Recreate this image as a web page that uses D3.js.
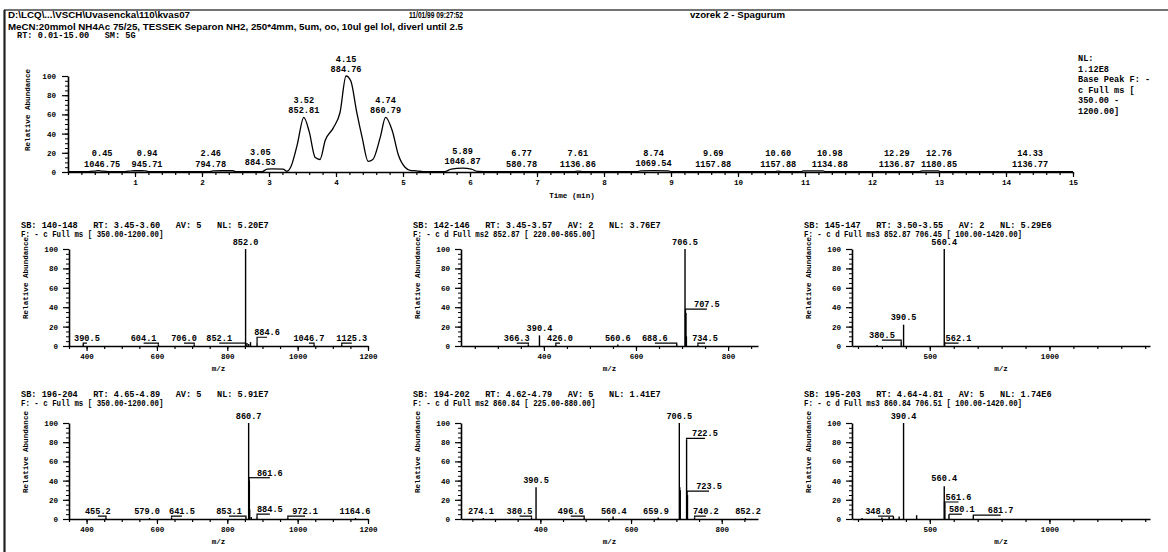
<!DOCTYPE html>
<html><head><meta charset="utf-8">
<script src="https://cdn.jsdelivr.net/npm/d3@7"></script>
<style>
body{margin:0;background:#fff;}
svg text{font-family:"Liberation Mono","DejaVu Sans Mono",monospace;font-weight:bold;font-size:8.6px;fill:#000;white-space:pre;}
svg text.tk{font-size:7.6px;}
svg text.top{font-family:"Liberation Sans","Arial",sans-serif;font-weight:bold;font-size:8.4px;}
</style></head><body>
<svg id="c" width="1168" height="552"></svg>
<script>
// ---------------- DATA ----------------
const headerFile = "D:\\LCQ\\...\\VSCH\\Uvasencka\\110\\kvas07";
const headerDate = "11/01/99 09:27:52";
const headerSample = "vzorek 2 - Spagurum";
const headerMethod = "MeCN:20mmol NH4Ac 75/25, TESSEK Separon NH2, 250*4mm, 5um, oo, 10ul gel lol, diverl until 2.5";

const chromHeader = "RT: 0.01-15.00   SM: 5G";
const chromInfo = ["NL:", "1.12E8", "Base Peak F: -", "c Full ms [", "350.00 -", "1200.00]"];
const chromXTicks = [1,2,3,4,5,6,7,8,9,10,11,12,13,14,15];
const yTicks = [0,20,40,60,80,100];

// chromatogram trace (time, relative abundance)
const chromTime = [0,0.3,0.4,0.45,0.5,0.6,0.85,0.95,1.0,1.1,1.15,1.2,1.5,2.1,2.17,2.3,2.46,2.5,2.9,2.97,3.05,3.21,3.27,3.33,3.42,3.52,3.6,3.69,3.76,3.84,3.96,4.06,4.15,4.22,4.31,4.39,4.48,4.55,4.66,4.74,4.84,4.93,5.03,5.12,5.2,5.3,5.62,5.72,5.89,6.02,6.12,6.3,7.55,7.61,7.7,8.5,8.54,8.74,8.96,9.0,10.55,10.6,10.65,10.95,10.97,11.27,11.3,12.7,12.75,12.99,13.02,15];
const chromInt  = [0.3,0.3,1,1.5,1,0.3,0.4,1.2,1.3,1.3,1.2,0.4,0.3,0.3,1.2,1.3,1.3,0.4,0.4,3,3.2,3,0.8,6,28,57,42,15,13,33,46,62,100,95,62,36,11,13,36,57,43,18,5,1.5,1.2,0.3,0.4,3,4,3,0.5,0.3,0.3,1,0.3,0.3,1.2,1.4,1.2,0.3,0.3,1,0.3,0.3,1.2,1.2,0.3,0.3,1.2,1.2,0.3,0.3];

// chromatogram peak annotations
const chromRT = ["0.45","0.94","2.46","3.05","3.52","4.15","4.74","5.89","6.77","7.61","8.74","9.69","10.60","10.98","12.29","12.76","14.33"];
const chromBP = ["1046.75","945.71","794.78","884.53","852.81","884.76","860.79","1046.87","580.78","1136.86","1069.54","1157.88","1157.88","1134.88","1136.87","1180.85","1136.77"];
const chromLabelT = [0.51,1.18,2.13,2.87,3.52,4.15,4.74,5.89,6.77,7.61,8.74,9.63,10.60,11.37,12.37,13.0,14.36];
const chromLabelApex = [1.5,1.5,1.5,3,57,100,57,4,1.5,1.5,1.8,1.5,1.5,1.5,1.5,1.5,1.5];

// spectra headers
const specHeader1 = [
  "SB: 140-148   RT: 3.45-3.60   AV: 5   NL: 5.20E7",
  "SB: 142-146   RT: 3.45-3.57   AV: 2   NL: 3.76E7",
  "SB: 145-147   RT: 3.50-3.55   AV: 2   NL: 5.29E6",
  "SB: 196-204   RT: 4.65-4.89   AV: 5   NL: 5.91E7",
  "SB: 194-202   RT: 4.62-4.79   AV: 5   NL: 1.41E7",
  "SB: 195-203   RT: 4.64-4.81   AV: 5   NL: 1.74E6"];
const specHeader2 = [
  "F: - c Full ms [ 350.00-1200.00]",
  "F: - c d Full ms2 852.87 [ 220.00-865.00]",
  "F: - c d Full ms3 852.87 706.45 [ 100.00-1420.00]",
  "F: - c Full ms [ 350.00-1200.00]",
  "F: - c d Full ms2 860.84 [ 225.00-880.00]",
  "F: - c d Full ms3 860.84 706.51 [ 100.00-1420.00]"];
const specDomains = [[350,1200],[220,865],[175,1420],[350,1200],[225,880],[175,1420]];
const specMajorTicks = [[400,600,800,1000,1200],[400,600,800],[500,1000],[400,600,800,1000,1200],[400,600,800],[500,1000]];
const specMinorStep = [50,50,100,50,50,100];

// peaks: [m/z, relative abundance]
const peaks1 = [[390.5,2],[604.1,1.5],[706.0,1.5],[852.0,100],[852.1,3],[856,3],[861,2],[866,4],[884.6,3],[1046.7,1],[1125.3,1.5]];
const peaks2 = [[366.3,1.5],[390.4,11],[426.0,1],[560.6,1.5],[688.6,2],[706.5,100],[707.5,36],[708.5,34],[709.5,10],[734.5,1.5]];
const peaks3 = [[280,1],[380.5,4],[390.5,22],[560.4,100],[562.1,4]];
const peaks4 = [[455.2,1],[579.0,1],[641.5,1.5],[853.1,2],[860.7,100],[861.6,43],[862.7,40],[863.6,10],[868,2],[884.5,2],[972.1,1.5],[1164.6,1]];
const peaks5 = [[274.1,1],[380.5,1.5],[390.5,33],[496.6,1],[560.4,2.5],[659.9,1.5],[706.5,100],[707.5,33],[708.5,30],[722.5,83],[723.5,28],[724.5,25],[740.2,1.5],[852.2,1]];
const peaks6 = [[217,1],[300,1.5],[330,2],[348.0,3],[372,2.5],[390.4,100],[445,4],[560.4,34],[561.6,18],[562.6,17],[580.1,5],[681.7,3]];

// labels: [text, peak m/z, peak abundance, label m/z, label level]
const labels1 = [["390.5",390.5,2,401,3],["604.1",604.1,1.5,562,3],["706.0",706.0,1.5,677,3],["852.1",852.1,3,777,3],["852.0",852.0,100,852.0,102],["884.6",884.6,3,913,9],["1046.7",1046.7,1,1032,3],["1125.3",1125.3,1.5,1154,3]];
const labels2 = [["366.3",366.3,1.5,341,3],["390.4",390.4,11,390.4,13.5],["426.0",426.0,1,435,3],["560.6",560.6,1.5,560.6,3],["688.6",688.6,2,641,3],["706.5",706.5,100,706.5,102],["707.5",707.5,36,754,38],["734.5",734.5,1.5,750,3]];
const labels3 = [["380.5",380.5,4,300,6],["390.5",390.5,22,390.5,25],["560.4",560.4,100,560.4,102],["562.1",562.1,4,620,3]];
const labels4 = [["455.2",455.2,1,432,3],["579.0",579.0,1,572,3],["641.5",641.5,1.5,671,3],["853.1",853.1,2,805,3],["860.7",860.7,100,860.7,102],["861.6",861.6,43,921,43],["884.5",884.5,2,921,5],["972.1",972.1,1.5,1021,3],["1164.6",1164.6,1,1163,3]];
const labels5 = [["274.1",274.1,1,269,3],["380.5",380.5,1.5,354,3],["390.5",390.5,33,390.5,35.5],["496.6",496.6,1,467,3],["560.4",560.4,2.5,562,3.5],["659.9",659.9,1.5,655,3],["706.5",706.5,100,706.5,102],["722.5",722.5,83,763,84],["723.5",723.5,28,772,29],["740.2",740.2,1.5,765,3],["852.2",852.2,1,858,3]];
const labels6 = [["348.0",348.0,3,284,3],["390.4",390.4,100,390.4,102],["560.4",560.4,34,560.4,37],["561.6",561.6,18,620,17.7],["580.1",580.1,5,634,5],["681.7",681.7,3,796,4]];

const specPeaks = [peaks1,peaks2,peaks3,peaks4,peaks5,peaks6];
const specLabels = [labels1,labels2,labels3,labels4,labels5,labels6];

// ---------------- DRAW ----------------
const svg = d3.select("#c");
svg.append("rect").attr("width",1168).attr("height",552).attr("fill","#fff");

// frame
svg.append("line").attr("x1",4).attr("x2",1168).attr("y1",10).attr("y2",10).attr("stroke","#444").attr("stroke-width",1.6);
svg.append("line").attr("x1",4.5).attr("x2",4.5).attr("y1",10).attr("y2",552).attr("stroke","#222").attr("stroke-width",2.2);

// page header
svg.append("text").attr("class","top").attr("x",8).attr("y",18).attr("textLength",182).attr("lengthAdjust","spacingAndGlyphs").text(headerFile);
svg.append("text").attr("class","top").attr("x",409).attr("y",18).attr("textLength",54).attr("lengthAdjust","spacingAndGlyphs").text(headerDate);
svg.append("text").attr("class","top").attr("x",690).attr("y",18).attr("textLength",95).attr("lengthAdjust","spacingAndGlyphs").text(headerSample);
svg.append("text").attr("class","top").attr("x",8).attr("y",30).attr("textLength",455).attr("lengthAdjust","spacingAndGlyphs").text(headerMethod);

function styleAxis(g){
  g.selectAll("path.domain").attr("stroke","#000").attr("stroke-width",1.6);
  g.selectAll(".tick line").attr("stroke","#000").attr("stroke-width",1.2);
  g.selectAll("text").attr("class","tk");
}

// ---- chromatogram
const cx = d3.scaleLinear().domain([0,15]).range([68,1073]);
const cy = d3.scaleLinear().domain([0,100]).range([172,76]);
const cg = svg.append("g");
cg.append("text").attr("x",17).attr("y",38).text(chromHeader);

cg.append("g").attr("transform","translate(0,172)")
  .call(d3.axisBottom(cx).tickValues(d3.range(0,15.001,0.2)).tickSize(3).tickSizeOuter(0).tickFormat(""))
  .call(g=>{g.select(".domain").remove();g.selectAll(".tick line").attr("stroke","#000").attr("stroke-width",1.2);});
cg.append("g").attr("transform","translate(0,172)")
  .call(d3.axisBottom(cx).tickValues(chromXTicks).tickSize(5).tickSizeOuter(0).tickPadding(3).tickFormat(d3.format("d")))
  .call(styleAxis);
cg.append("g").attr("transform","translate(68,0)")
  .call(d3.axisLeft(cy).tickValues(d3.range(0,100.001,5)).tickSize(3).tickSizeOuter(0).tickFormat(""))
  .call(g=>{g.select(".domain").remove();g.selectAll(".tick line").attr("stroke","#000").attr("stroke-width",1);});
cg.append("g").attr("transform","translate(68,0)")
  .call(d3.axisLeft(cy).tickValues(yTicks).tickSize(6).tickSizeOuter(0).tickPadding(6))
  .call(styleAxis);
cg.append("text").attr("transform","translate(30,110) rotate(-90)").attr("text-anchor","middle").attr("class","tk").text("Relative Abundance");
cg.append("text").attr("x",572).attr("y",198).attr("text-anchor","middle").attr("class","tk").text("Time (min)");

const chromPts = chromTime.map((t,i)=>[t,chromInt[i]]);
cg.append("path").datum(chromPts)
  .attr("d",d3.line().x(d=>cx(d[0])).y(d=>cy(d[1])).curve(d3.curveMonotoneX))
  .attr("fill","none").attr("stroke","#000").attr("stroke-width",1.3);

chromRT.forEach((rt,i)=>{
  const xx = cx(chromLabelT[i]);
  const yb = cy(chromLabelApex[i]) - 4;
  cg.append("text").attr("x",xx).attr("y",yb-10.5).attr("text-anchor","middle").text(rt);
  cg.append("text").attr("x",xx).attr("y",yb).attr("text-anchor","middle").text(chromBP[i]);
});
chromInfo.forEach((s,i)=>{
  cg.append("text").attr("x",1078).attr("y",61+i*10.6).text(s);
});

// ---- spectra
const colX = [[69,368],[461,758],[852,1150]];
const rowY = [[346,249],[519,423]];
const hdrY = [228,397];

specPeaks.forEach((pk,i)=>{
  const col = i%3, row = Math.floor(i/3);
  const [x0,x1] = colX[col];
  const [yb,yt] = rowY[row];
  const x = d3.scaleLinear().domain(specDomains[i]).range([x0,x1]);
  const y = d3.scaleLinear().domain([0,100]).range([yb,yt]);
  const g = svg.append("g");
  const hx = x0 - 48;
  g.append("text").attr("x",hx).attr("y",hdrY[row]).text(specHeader1[i]);
  g.append("text").attr("x",hx).attr("y",hdrY[row]+9).attr("textLength",specHeader2[i].length*4.45).attr("lengthAdjust","spacingAndGlyphs").text(specHeader2[i]);

  const d0 = specDomains[i];
  const minor = d3.range(Math.ceil(d0[0]/specMinorStep[i])*specMinorStep[i], d0[1]+0.001, specMinorStep[i]);
  g.append("g").attr("transform",`translate(0,${yb})`)
    .call(d3.axisBottom(x).tickValues(minor).tickSize(3).tickSizeOuter(0).tickFormat(""))
    .call(a=>{a.select(".domain").remove();a.selectAll(".tick line").attr("stroke","#000").attr("stroke-width",1.2);});
  g.append("g").attr("transform",`translate(0,${yb})`)
    .call(d3.axisBottom(x).tickValues(specMajorTicks[i]).tickSize(5).tickSizeOuter(0).tickPadding(3).tickFormat(d3.format("d")))
    .call(styleAxis);
  g.append("g").attr("transform",`translate(${x0},0)`)
    .call(d3.axisLeft(y).tickValues(d3.range(0,100.001,5)).tickSize(3).tickSizeOuter(0).tickFormat(""))
    .call(a=>{a.select(".domain").remove();a.selectAll(".tick line").attr("stroke","#000").attr("stroke-width",1);});
  g.append("g").attr("transform",`translate(${x0},0)`)
    .call(d3.axisLeft(y).tickValues(yTicks).tickSize(6).tickSizeOuter(0).tickPadding(5))
    .call(styleAxis);
  g.append("text").attr("transform",`translate(${x0-41},${yt+29}) rotate(-90)`).attr("text-anchor","middle").attr("class","tk").text("Relative Abundance");
  g.append("text").attr("x",(x0+x1)/2).attr("y",yb+25).attr("text-anchor","middle").attr("class","tk").text("m/z");

  g.selectAll("line.pk").data(pk).join("line").attr("class","pk")
    .attr("x1",d=>x(d[0])).attr("x2",d=>x(d[0]))
    .attr("y1",y(0)).attr("y2",d=>y(d[1]))
    .attr("stroke","#000").attr("stroke-width",1.4);

  specLabels[i].forEach(l=>{
    const [t,mz,I,lmz,lvl] = l;
    const px = x(mz), lx = x(lmz), ly = y(lvl);
    if (Math.abs(px-lx) > 3) {
      g.append("path").attr("d",`M${px},${y(I)}V${ly}H${lx}`)
        .attr("fill","none").attr("stroke","#000").attr("stroke-width",1.2);
    }
    g.append("text").attr("x",lx).attr("y",ly-2).attr("text-anchor","middle").text(t);
  });
});
</script>
</body></html>
